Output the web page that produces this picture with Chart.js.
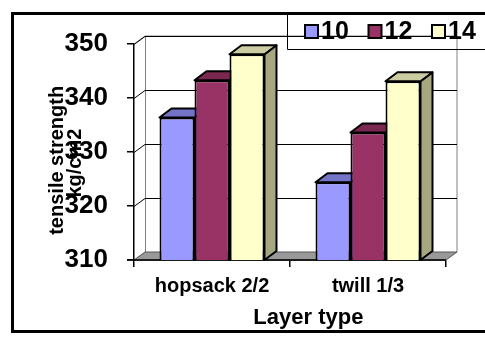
<!DOCTYPE html>
<html>
<head>
<meta charset="utf-8">
<script src="https://cdn.jsdelivr.net/npm/chart.js@4.4.0/dist/chart.umd.min.js"></script>
<style>
  body { margin: 0; background: #fff; }
  canvas { display: block; }
</style>
</head>
<body>
<canvas id="myChart" width="485" height="339"></canvas>
<script>
// data
let categories = ['hopsack 2/2', 'twill 1/3'];
let seriesNames = ['10', '12', '14'];
let values10 = [336.4, 324.4];
let values12 = [343.3, 333.6];
let values14 = [348.1, 343.1];
let yTicks = [310, 320, 330, 340, 350];

let frontColors = ['#9999ff', '#993366', '#ffffcc'];
let topColors = ['#7373c8', '#7a2850', '#cccca3'];
let sideColors = ['#6666aa', '#5e1f3e', '#a6a680'];

const FONT = '"Liberation Sans", Arial, sans-serif';
const WX = 11, WY = -8;   // wall depth
const BX = 12, BY = -9;   // bar depth

function poly(ctx, pts, fill) {
  ctx.beginPath();
  ctx.moveTo(pts[0][0], pts[0][1]);
  for (let i = 1; i < pts.length; i++) ctx.lineTo(pts[i][0], pts[i][1]);
  ctx.closePath();
  ctx.fillStyle = fill;
  ctx.fill();
  ctx.stroke();
}

const threeD = {
  id: 'threeD',
  beforeDatasetsDraw(chart) {
    const ctx = chart.ctx, a = chart.chartArea, y = chart.scales.y;
    ctx.save();
    ctx.lineWidth = 1;
    ctx.strokeStyle = '#808080';
    // walls
    ctx.beginPath();
    ctx.moveTo(a.left, a.top);
    ctx.lineTo(a.left + WX, a.top + WY);
    ctx.lineTo(a.right + WX, a.top + WY);
    ctx.lineTo(a.right + WX, a.bottom + WY);
    ctx.moveTo(a.left + WX + 0.5, a.top + WY);
    ctx.lineTo(a.left + WX + 0.5, a.bottom + WY);
    ctx.stroke();
    // grid on back wall
    ctx.strokeStyle = '#000';
    y.ticks.forEach(t => {
      const py = Math.round(y.getPixelForValue(t.value)) + 0.5;
      ctx.beginPath();
      ctx.moveTo(a.left, py);
      ctx.lineTo(a.left + WX, py + WY);
      ctx.lineTo(a.right + WX, py + WY);
      ctx.stroke();
    });
    // floor
    ctx.strokeStyle = '#555';
    poly(ctx, [[a.left, a.bottom], [a.left + WX, a.bottom + WY], [a.right + WX, a.bottom + WY], [a.right, a.bottom]], '#999999');
    ctx.strokeStyle = '#000';
    ctx.lineWidth = 1.5;
    ctx.beginPath();
    ctx.moveTo(a.left - 7, a.bottom);
    ctx.lineTo(a.right, a.bottom);
    ctx.stroke();
    // bar tops and sides
    ctx.lineWidth = 2;
    ctx.lineJoin = 'round';
    chart.data.datasets.forEach((ds, i) => {
      chart.getDatasetMeta(i).data.forEach(bar => {
        const l = bar.x - bar.width / 2, r = bar.x + bar.width / 2;
        const b = Math.min(bar.base, a.bottom);
        poly(ctx, [[r, bar.y], [r + BX, bar.y + BY], [r + BX, b + BY], [r, b]], sideColors[i]);
        poly(ctx, [[l, bar.y], [l + BX, bar.y + BY], [r + BX, bar.y + BY], [r, bar.y]], topColors[i]);
      });
    });
    ctx.restore();
  },
  afterDraw(chart) {
    const ctx = chart.ctx;
    ctx.save();
    // legend
    ctx.strokeStyle = '#000';
    ctx.lineWidth = 1;
    ctx.beginPath();
    ctx.moveTo(287.5, 13);
    ctx.lineTo(287.5, 49.5);
    ctx.lineTo(485, 49.5);
    ctx.stroke();
    ctx.font = 'bold 25px ' + FONT;
    ctx.textBaseline = 'middle';
    chart.data.datasets.forEach((ds, i) => {
      const x = 305 + i * 63.5;
      ctx.fillStyle = ds.backgroundColor;
      ctx.lineWidth = 2;
      ctx.fillRect(x, 25, 13, 13);
      ctx.strokeRect(x, 25, 13, 13);
      ctx.fillStyle = '#000';
      ctx.fillText(ds.label, x + 16, 32);
    });
    // outer frame
    ctx.lineWidth = 3;
    ctx.strokeRect(12.5, 13.5, 490, 318);
    ctx.restore();
  }
};

let ctx = document.getElementById('myChart').getContext('2d');
let myChart = new Chart(ctx, {
  type: 'bar',
  data: {
    labels: categories,
    datasets: [
      {label: seriesNames[0], data: values10, backgroundColor: frontColors[0]},
      {label: seriesNames[1], data: values12, backgroundColor: frontColors[1]},
      {label: seriesNames[2], data: values14, backgroundColor: frontColors[2]}
    ]
  },
  plugins: [threeD],
  options: {
    responsive: false,
    animation: false,
    devicePixelRatio: 1,
    layout: {padding: {left: 0, top: 44, right: 39, bottom: 0}},
    datasets: {
      bar: {borderColor: '#000', borderWidth: 2, borderSkipped: false, categoryPercentage: 0.673, barPercentage: 1}
    },
    plugins: {legend: {display: false}, tooltip: {enabled: false}},
    scales: {
      x: {
        afterFit: s => { s.height = 79; },
        grid: {drawOnChartArea: false, offset: true, tickLength: 7, color: '#000', lineWidth: 1.5},
        border: {display: true, color: '#000', width: 1.5},
        ticks: {color: '#000', padding: 7, font: {family: FONT, size: 20, weight: 'bold'}},
        title: {display: true, text: '      Layer type', color: '#000', padding: {top: 0, bottom: 8},
                font: {family: FONT, size: 22, weight: 'bold'}}
      },
      y: {
        min: 310, max: 350,
        afterFit: s => { s.width = 134; },
        afterBuildTicks: s => { s.ticks = yTicks.map(v => ({value: v})); },
        grid: {drawOnChartArea: false, tickLength: 7, color: '#000', lineWidth: 1.5},
        border: {display: true, color: '#000', width: 1.5},
        ticks: {color: '#000', padding: 19, font: {family: FONT, size: 26, weight: 'bold'}},
        title: {display: true, text: ['tensile strength   ', 'kg/cm2    '], color: '#000', padding: {top: 48, bottom: 0},
                font: {family: FONT, size: 20, weight: 'bold', lineHeight: '18px'}}
      }
    }
  }
});
</script>
</body>
</html>
